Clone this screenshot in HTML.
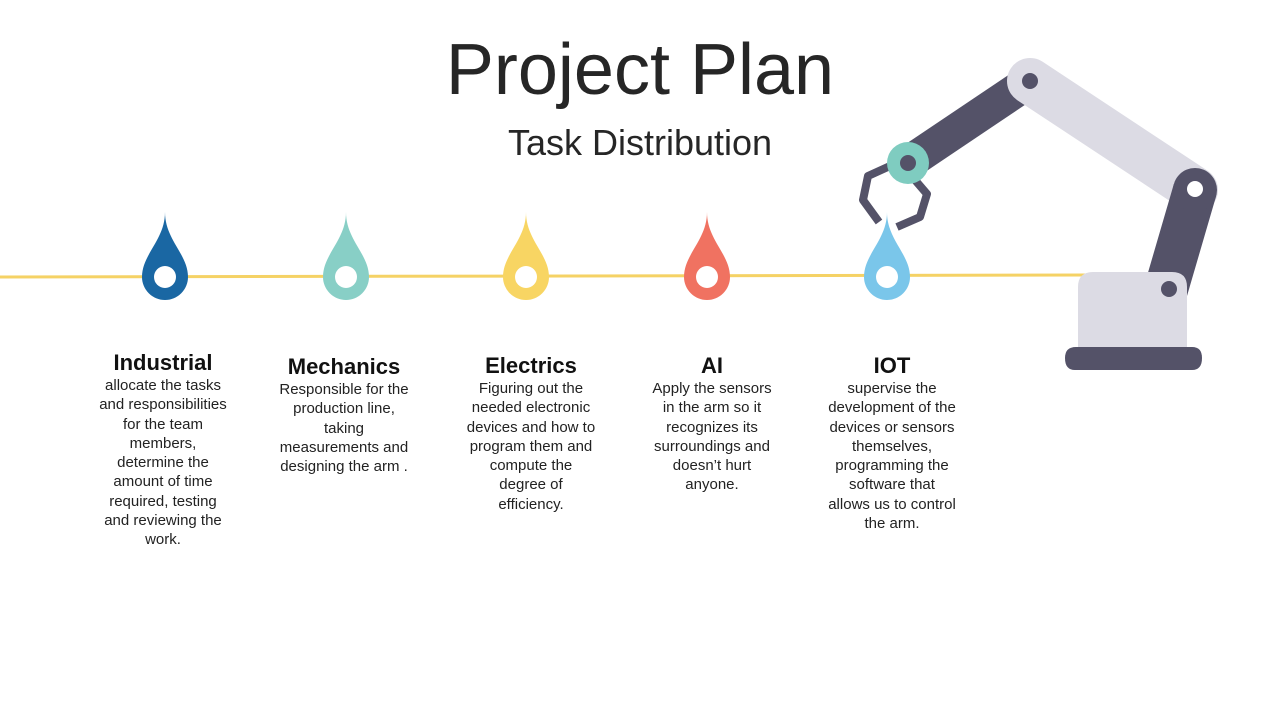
<!DOCTYPE html>
<html><head><meta charset="utf-8"><style>
body{margin:0;width:1280px;height:720px;background:#fff;position:relative;overflow:hidden;font-family:"Liberation Sans",sans-serif;color:#222}
.t{position:absolute;left:0;width:1280px;text-align:center}
.col{position:absolute;width:180px;text-align:center;font-size:15px;line-height:19.3px;color:#222;white-space:nowrap}
.col b{display:block;font-size:22px;line-height:26px;color:#111}
</style></head><body>
<div class="t" style="top:28px;font-size:72px;line-height:84px;color:#262626">Project Plan</div>
<div class="t" style="top:122px;font-size:36px;line-height:42px;color:#262626">Task Distribution</div>
<svg width="1280" height="720" style="position:absolute;left:0;top:0">
<line x1="0" y1="277" x2="1090" y2="275" stroke="#f5d265" stroke-width="3"/>
<g>
<path d="M165 212 C165 240 188 254 188 277 A23 23 0 0 1 142 277 C142 254 165 240 165 212Z" fill="#1a67a3"/><circle cx="165" cy="277" r="11" fill="#fff"/>
<path d="M346 212 C346 240 369 254 369 277 A23 23 0 0 1 323 277 C323 254 346 240 346 212Z" fill="#88cfc6"/><circle cx="346" cy="277" r="11" fill="#fff"/>
<path d="M526 212 C526 240 549 254 549 277 A23 23 0 0 1 503 277 C503 254 526 240 526 212Z" fill="#f8d563"/><circle cx="526" cy="277" r="11" fill="#fff"/>
<path d="M707 212 C707 240 730 254 730 277 A23 23 0 0 1 684 277 C684 254 707 240 707 212Z" fill="#f07261"/><circle cx="707" cy="277" r="11" fill="#fff"/>
<path d="M887 212 C887 240 910 254 910 277 A23 23 0 0 1 864 277 C864 254 887 240 887 212Z" fill="#7ac6ea"/><circle cx="887" cy="277" r="11" fill="#fff"/>
</g>
<line x1="1030" y1="81" x2="908" y2="163" stroke="#545268" stroke-width="34"/>
<line x1="1030" y1="81" x2="1195" y2="190" stroke="#dcdbe4" stroke-width="46" stroke-linecap="round"/>
<line x1="1195" y1="190" x2="1160" y2="310" stroke="#545268" stroke-width="44"/>
<circle cx="1195" cy="190" r="22" fill="#545268"/>
<circle cx="1195" cy="189" r="8" fill="#fff"/>
<circle cx="1030" cy="81" r="8" fill="#545268"/>
<polyline points="890,166 868,176 863,200 879,222" fill="none" stroke="#545268" stroke-width="8" stroke-linejoin="round"/>
<polyline points="915,180 927,194 920,217 897,227" fill="none" stroke="#545268" stroke-width="8" stroke-linejoin="round"/>
<circle cx="908" cy="163" r="21" fill="#7fccc0"/>
<circle cx="908" cy="163" r="8" fill="#545268"/>
<path d="M1078 350 V287 Q1078 272 1093 272 H1172 Q1187 272 1187 287 V350Z" fill="#dcdbe4"/>
<circle cx="1169" cy="289" r="8" fill="#545268"/>
<path d="M1076 347 H1192 Q1202 347 1202 358 Q1202 370 1192 370 H1075 Q1065 370 1065 358 Q1065 347 1076 347Z" fill="#545268"/>
</svg>
<div class="col" style="left:73px;top:350px"><b>Industrial</b>allocate the tasks<br>and responsibilities<br>for the team<br>members,<br>determine the<br>amount of time<br>required, testing<br>and reviewing the<br>work.</div>
<div class="col" style="left:254px;top:354px"><b>Mechanics</b>Responsible for the<br>production line,<br>taking<br>measurements and<br>designing the arm .</div>
<div class="col" style="left:441px;top:353px"><b>Electrics</b>Figuring out the<br>needed electronic<br>devices and how to<br>program them and<br>compute the<br>degree of<br>efficiency.</div>
<div class="col" style="left:622px;top:353px"><b>AI</b>Apply the sensors<br>in the arm so it<br>recognizes its<br>surroundings and<br>doesn’t hurt<br>anyone.</div>
<div class="col" style="left:802px;top:353px"><b>IOT</b>supervise the<br>development of the<br>devices or sensors<br>themselves,<br>programming the<br>software that<br>allows us to control<br>the arm.</div>
</body></html>
